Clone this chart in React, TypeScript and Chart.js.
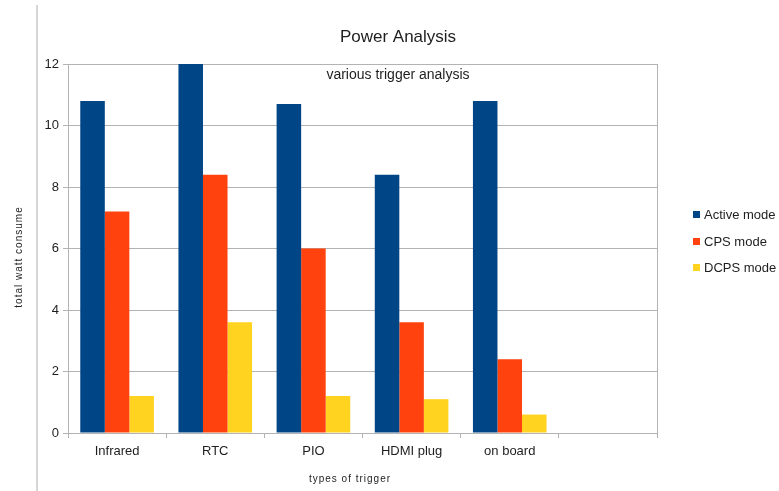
import React, { useEffect, useRef } from 'react';
import { Chart, registerables } from 'chart.js';

Chart.register(...registerables);

const categories = ['Infrared', 'RTC', 'PIO', 'HDMI plug', 'on board', ''];
const activeMode = [10.8, 12, 10.7, 8.4, 10.8, null];
const cpsMode = [7.2, 8.4, 6.0, 3.6, 2.4, null];
const dcpsMode = [1.2, 3.6, 1.2, 1.1, 0.6, null];
const seriesNames = ['Active mode', 'CPS mode', 'DCPS mode'];
const seriesColors = ['#004586', '#ff420e', '#ffd320'];
const titleText = 'Power Analysis';
const subtitleText = 'various trigger analysis';
const xTitleText = 'types of trigger';
const yTitleText = 'total watt consume';
const yMin = 0;
const yMax = 12;
const yStep = 2;

const FONT = '"Liberation Sans", Arial, sans-serif';
const GRID = '#b3b3b3';
const TEXT = '#1e1e1e';

const decorPlugin = {
  id: 'decor',
  afterDraw(chart: any) {
    const ctx = chart.ctx as CanvasRenderingContext2D;
    const area = chart.chartArea;
    ctx.save();
    // page border line on the left
    ctx.strokeStyle = '#c8c8c8';
    ctx.lineWidth = 1.5;
    ctx.beginPath();
    ctx.moveTo(37, 5);
    ctx.lineTo(37, 491);
    ctx.stroke();
    // right border of plot
    ctx.strokeStyle = GRID;
    ctx.lineWidth = 1;
    ctx.beginPath();
    ctx.moveTo(Math.round(area.right) + 0.5, area.top);
    ctx.lineTo(Math.round(area.right) + 0.5, area.bottom);
    ctx.stroke();
    // title
    ctx.fillStyle = TEXT;
    ctx.textAlign = 'center';
    ctx.textBaseline = 'middle';
    ctx.font = `17px ${FONT}`;
    ctx.fillText(titleText, 398, 37);
    ctx.font = `14px ${FONT}`;
    ctx.fillText(subtitleText, 398, 75);
    // axis titles
    ctx.font = `10px ${FONT}`;
    (ctx as any).letterSpacing = '1px';
    ctx.fillText(xTitleText, 350, 479);
    ctx.save();
    ctx.translate(19, 257);
    ctx.rotate(-Math.PI / 2);
    ctx.fillText(yTitleText, 0, 0);
    ctx.restore();
    (ctx as any).letterSpacing = '0px';
    // legend
    ctx.textAlign = 'left';
    ctx.font = `13px ${FONT}`;
    const ys = [215, 242, 268];
    chart.data.datasets.forEach((ds: any, i: number) => {
      ctx.fillStyle = ds.backgroundColor;
      ctx.fillRect(693, ys[i] - 4, 7, 7);
      ctx.fillStyle = TEXT;
      ctx.fillText(ds.label, 704, ys[i]);
    });
    ctx.restore();
  },
};

export default function App() {
  const ref = useRef<HTMLCanvasElement>(null);
  useEffect(() => {
    if (!ref.current) return;
    const chart = new Chart(ref.current, {
      type: 'bar',
      data: {
        labels: categories,
        datasets: [
          { label: seriesNames[0], data: activeMode, backgroundColor: seriesColors[0] },
          { label: seriesNames[1], data: cpsMode, backgroundColor: seriesColors[1] },
          { label: seriesNames[2], data: dcpsMode, backgroundColor: seriesColors[2] },
        ],
      },
      options: {
        responsive: false,
        animation: false,
        layout: { padding: { top: 64, right: 122, left: 0, bottom: 0 } },
        datasets: { bar: { categoryPercentage: 0.75, barPercentage: 1 } },
        plugins: { legend: { display: false }, title: { display: false }, tooltip: { enabled: false } },
        scales: {
          x: {
            grid: { offset: true, drawOnChartArea: false, tickLength: 5, color: GRID },
            border: { color: GRID },
            ticks: { color: TEXT, font: { family: FONT, size: 13 }, padding: 6, maxRotation: 0 },
            afterFit(scale: any) { scale.height = 58; },
          },
          y: {
            min: yMin,
            max: yMax,
            grid: { color: GRID, tickLength: 5 },
            border: { color: GRID },
            ticks: { stepSize: yStep, color: TEXT, font: { family: FONT, size: 13 }, padding: 4 },
            afterFit(scale: any) { scale.width = 68; },
          },
        },
      },
      plugins: [decorPlugin],
    });
    return () => chart.destroy();
  }, []);
  return (
    <div style={{ position: 'absolute', left: 0, top: 0, width: 779, height: 491, background: '#fff' }}>
      <canvas ref={ref} width={779} height={491} />
    </div>
  );
}
